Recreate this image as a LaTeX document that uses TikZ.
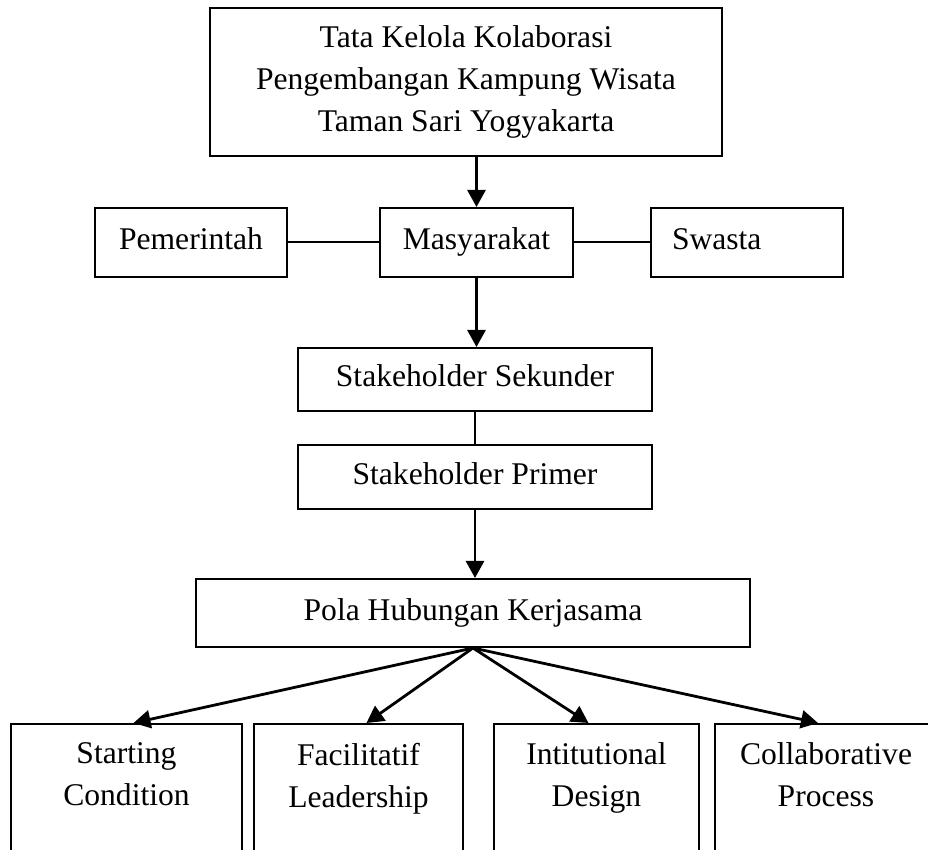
\documentclass[tikz,border=0pt]{standalone}
\usepackage{fontspec}
\setmainfont{Liberation Serif}
\usetikzlibrary{arrows.meta}

\tikzset{
  box/.style={draw=black,line width=1pt,inner sep=0pt,align=center},
  onebox/.style={box,text height=11pt,text depth=3.5pt},
  tallbox/.style={draw=black,line width=1pt,anchor=north,inner xsep=2pt,inner ysep=9.5pt,
    align=center,text depth=80pt},
  link/.style={line width=1pt},
  flow/.style={line width=1.4pt,-{Triangle[length=8.5pt,width=9pt]}}
}

\begin{document}
\begin{tikzpicture}[x=0.5pt,y=0.5pt,font=\fontsize{15.8pt}{21pt}\selectfont]
  \path[use as bounding box] (0,0) rectangle (928,850);
  \clip (0,0) rectangle (928,850);

  % top
  \node[box,minimum width=256pt,minimum height=74pt] (tata) at (466,768)
    {Tata Kelola Kolaborasi\\Pengembangan Kampung Wisata\\Taman Sari Yogyakarta};

  % actors
  \node[onebox,minimum width=96.5pt,minimum height=34.5pt] (mas) at (476.5,607.5) {Masyarakat};
  \node[onebox,minimum width=96pt,minimum height=34.5pt] (pem) at (191,607.5) {Pemerintah};
  \node[onebox,minimum height=34.5pt,inner xsep=10.5pt,text width=75pt,align=left] (swa) at (747,607.5) {Swasta};

  % stakeholders
  \node[onebox,minimum width=177pt,minimum height=31.5pt] (sek) at (475,470.5) {Stakeholder Sekunder};
  \node[onebox,minimum width=177pt,minimum height=32pt] (pri) at (475,373) {Stakeholder Primer};
  \node[onebox,minimum width=277pt,minimum height=34pt] (pola) at (473,237) {Pola Hubungan Kerjasama};

  % bottom row
  \node[tallbox,minimum width=115.5pt] (start) at (126.5,127) {Starting\\Condition};
  \node[tallbox,minimum width=104.5pt] (fasil) at (358.5,127) {Facilitatif\\Leadership};
  \node[tallbox,minimum width=102.5pt] (inst) at (596.5,127) {Intitutional\\Design};
  \node[tallbox,minimum width=111pt] (kolab) at (826,127) {Collaborative\\Process};

  \draw[flow] (tata.south -| mas.north) -- (mas.north);
  \draw[link] (pem.east) -- (mas.west);
  \draw[link] (mas.east) -- (swa.west);
  \draw[flow] (mas.south) -- (mas.south |- sek.north);
  \draw[link] (sek.south) -- (pri.north);
  \draw[flow] (pri.south) -- (pri.south |- pola.north);

  \draw[flow] (pola.south) -- ([xshift=3.5pt]start.north);
  \draw[flow] (pola.south) -- ([xshift=4pt]fasil.north);
  \draw[flow] (pola.south) -- ([xshift=-4pt]inst.north);
  \draw[flow] (pola.south) -- ([xshift=-4pt]kolab.north);
\end{tikzpicture}
\end{document}
